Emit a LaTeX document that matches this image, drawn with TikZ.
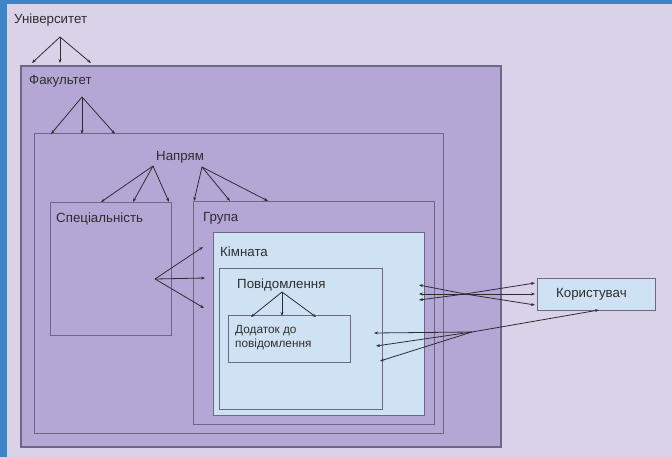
\documentclass[tikz,border=0pt]{standalone}
\usepackage{fontspec}
\setmainfont{Liberation Sans}
\usetikzlibrary{arrows.meta}
\definecolor{bgcol}{HTML}{D9D2E9}
\definecolor{framecol}{HTML}{3D85C6}
\definecolor{purp}{HTML}{B4A7D6}
\definecolor{pale}{HTML}{CFE2F3}
\definecolor{edgecol}{HTML}{6E6785}
\definecolor{ink}{HTML}{2E2E2E}
\tikzset{
  box/.style={draw=edgecol, line width=1pt},
  lbl/.style={anchor=base west, inner sep=0pt, font=\fontsize{13.3}{15}\selectfont, text=ink},
  small/.style={lbl, font=\fontsize{11.8}{13.5}\selectfont, align=left},
  arr/.style={draw=ink, line width=0.8pt, -{Stealth[length=4pt,width=3pt]}},
}
\begin{document}
\begin{tikzpicture}[x=1pt,y=-1pt]
% page background and blue frame
\fill[bgcol] (0,0) rectangle (672,457);
\fill[framecol] (0,0) rectangle (672,4);
\fill[framecol] (0,0) rectangle (7,457);

% nested containers
\filldraw[box, fill=purp, line width=1.3pt] (21,66) rectangle (501,447);
\draw[box] (34,134) rectangle (443,433);
\draw[box] (50,203) rectangle (171,335);
\draw[box] (193,202) rectangle (434,424);
\filldraw[box, fill=pale] (213,233) rectangle (424,415);
\draw[box] (219,268) rectangle (382,409);
\draw[box] (228,315) rectangle (350,362);
\filldraw[box, fill=pale] (537,278) rectangle (655,310);

% labels
\node[lbl] (univ) at (14,24) {Університет};
\node[lbl] (fac) at (29,85) {Факультет};
\node[lbl] (napr) at (156,161) {Напрям};
\node[lbl] (spec) at (56,223) {Спеціальність};
\node[lbl] (grp) at (203,222) {Група};
\node[lbl] (room) at (220,256) {Кімната};
\node[lbl] (msg) at (237,288) {Повідомлення};
\node[small] (att) at (235,347) {Додаток до\\повідомлення};
\node[lbl] (user) at (556,297) {Користувач};

% fan points
\coordinate (u0) at (60,37);
\coordinate (u1) at (32,63); \coordinate (u2) at (60,63); \coordinate (u3) at (91,63);
\coordinate (f0) at (82,97);
\coordinate (f1) at (51,134); \coordinate (f2) at (82,134); \coordinate (f3) at (115,134);
\coordinate (nl0) at (153,166);
\coordinate (nl1) at (101,202); \coordinate (nl2) at (133,202); \coordinate (nl3) at (169,202);
\coordinate (nr0) at (202,167);
\coordinate (nr1) at (194,201); \coordinate (nr2) at (230,201); \coordinate (nr3) at (268,201);
\coordinate (s0) at (155,279);
\coordinate (s1) at (203,247); \coordinate (s2) at (205,278); \coordinate (s3) at (204,308);
\coordinate (m0) at (282,292);
\coordinate (m1) at (251,317); \coordinate (m2) at (282,316); \coordinate (m3) at (316,317);
\coordinate (x0) at (465,294);
\coordinate (xl1) at (419,285); \coordinate (xl2) at (419,294); \coordinate (xl3) at (419,300);
\coordinate (xr1) at (535,283); \coordinate (xr2) at (535,294); \coordinate (xr3) at (535,305);
\coordinate (y0) at (472,332);
\coordinate (yu) at (599,310);
\coordinate (yl1) at (374,333); \coordinate (yl2) at (376,346); \coordinate (yl3) at (380,361);

% connectors
\foreach \a/\b in {u0/u1,u0/u2,u0/u3,f0/f1,f0/f2,f0/f3,nl0/nl1,nl0/nl2,nl0/nl3,
  nr0/nr1,nr0/nr2,nr0/nr3,s0/s1,s0/s2,s0/s3,m0/m1,m0/m2,m0/m3,
  x0/xl1,x0/xl2,x0/xl3,x0/xr1,x0/xr2,x0/xr3,y0/yu,y0/yl1,y0/yl2,y0/yl3}
  \draw[arr] (\a) -- (\b);
\end{tikzpicture}
\end{document}
